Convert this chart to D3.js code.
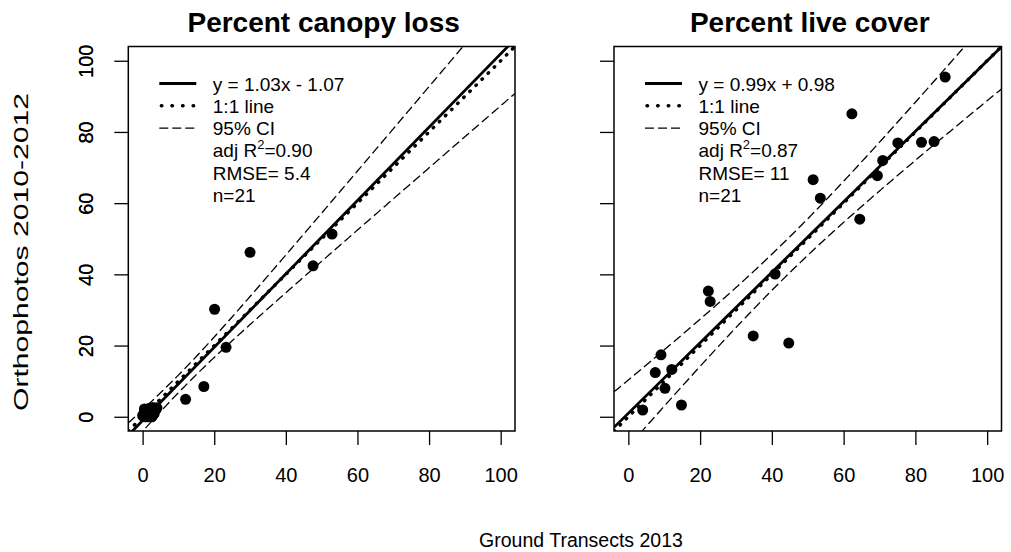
<!DOCTYPE html>
<html>
<head>
<meta charset="utf-8">
<script src="https://cdn.jsdelivr.net/npm/d3@7"></script>
<style>
  html, body { margin: 0; padding: 0; background: #fff; }
  svg { display: block; font-family: "Liberation Sans", Arial, Helvetica, sans-serif; }
</style>
</head>
<body>
<svg id="chart" width="1011" height="552"></svg>
<script>
// Axis ticks shared by both panels
const tickValues = [0, 20, 40, 60, 80, 100];
const axisDomain = [-4, 104];

// Percent canopy loss: ground transects (x) vs orthophotos (y)
const canopyX = [0.0, 0.4, 0.8, 1.2, 1.5, 1.9, 2.2, 2.6, 2.8, 3.2, 3.5, 4.0, 0.5, 2.0, 12.0, 17.1, 20.1, 23.3, 30.0, 47.6, 52.9];
const canopyY = [0.3, 1.0, 0.0, 1.8, 0.0, 2.4, 1.2, 0.0, 2.6, 0.8, 1.9, 2.5, 2.2, 0.3, 4.9, 8.5, 30.2, 19.5, 46.2, 42.4, 51.3];
const canopyFit = { slope: 1.03, intercept: -1.07, r2: "0.90", rmse: 5.4, rmseLabel: "5.4", n: 21 };

// Percent live cover
const liveX = [88.3, 62.3, 75.1, 81.7, 85.2, 70.9, 69.4, 51.5, 53.5, 64.5, 40.9, 22.3, 22.8, 34.8, 44.7, 9.1, 7.5, 12.1, 10.2, 14.8, 4.0];
const liveY = [95.4, 85.1, 76.9, 77.1, 77.3, 72.0, 67.7, 66.6, 61.4, 55.5, 40.1, 35.3, 32.4, 22.7, 20.7, 17.4, 12.4, 13.3, 8.0, 3.3, 1.9];
const liveFit = { slope: 0.99, intercept: 0.98, r2: "0.87", rmse: 11, rmseLabel: "11", n: 21 };

const titles = ["Percent canopy loss", "Percent live cover"];
const xLabel = "Ground Transects 2013";
const yLabel = "Orthophotos 2010-2012";

const svg = d3.select("#chart");

const panels = [
  { title: titles[0], xs: canopyX, ys: canopyY, fit: canopyFit, left: 128.3, right: 515, top: 46.5, bottom: 431 },
  { title: titles[1], xs: liveX, ys: liveY, fit: liveFit, left: 614, right: 1001.5, top: 46.5, bottom: 431 }
];

const T975 = 2.093; // t quantile, 19 df

panels.forEach((p, i) => {
  const x = d3.scaleLinear().domain(axisDomain).range([p.left, p.right]);
  const y = d3.scaleLinear().domain(axisDomain).range([p.bottom, p.top]);
  const g = svg.append("g");

  const clipId = "clip" + i;
  svg.append("clipPath").attr("id", clipId)
    .append("rect")
    .attr("x", p.left).attr("y", p.top)
    .attr("width", p.right - p.left).attr("height", p.bottom - p.top);

  const plot = g.append("g").attr("clip-path", `url(#${clipId})`);

  // Confidence band of the fitted mean
  const n = p.xs.length;
  const xbar = d3.mean(p.xs);
  const sxx = d3.sum(p.xs, v => (v - xbar) * (v - xbar));
  const fitAt = v => p.fit.intercept + p.fit.slope * v;
  const halfWidth = v => T975 * p.fit.rmse * Math.sqrt(1 / n + (v - xbar) * (v - xbar) / sxx);
  const grid = d3.range(axisDomain[0], axisDomain[1] + 0.01, 0.5);
  const line = d3.line().x(d => x(d[0])).y(d => y(d[1]));

  [-1, 1].forEach(sign => {
    plot.append("path")
      .attr("d", line(grid.map(v => [v, fitAt(v) + sign * halfWidth(v)])))
      .attr("fill", "none").attr("stroke", "#000")
      .attr("stroke-width", 1.3).attr("stroke-dasharray", "9 4");
  });

  // 1:1 line
  plot.append("path")
    .attr("d", line([axisDomain[0], axisDomain[1]].map(v => [v, v])))
    .attr("fill", "none").attr("stroke", "#000")
    .attr("stroke-width", 3.4).attr("stroke-linecap", "round")
    .attr("stroke-dasharray", "0.6 8");

  // regression line
  plot.append("path")
    .attr("d", line([axisDomain[0], axisDomain[1]].map(v => [v, fitAt(v)])))
    .attr("fill", "none").attr("stroke", "#000").attr("stroke-width", 2.8);

  // observations
  plot.selectAll("circle")
    .data(p.xs.map((v, k) => [v, p.ys[k]]))
    .join("circle")
    .attr("cx", d => x(d[0])).attr("cy", d => y(d[1]))
    .attr("r", 5.5).attr("fill", "#000");

  // frame
  g.append("rect")
    .attr("x", p.left).attr("y", p.top)
    .attr("width", p.right - p.left).attr("height", p.bottom - p.top)
    .attr("fill", "none").attr("stroke", "#000").attr("stroke-width", 1.5);

  // x axis
  const xAxis = g.append("g")
    .attr("transform", `translate(0,${p.bottom})`)
    .call(d3.axisBottom(x).tickValues(tickValues).tickSize(14).tickPadding(0).tickFormat(d3.format("d")));
  xAxis.select(".domain").remove();
  xAxis.selectAll("line").attr("stroke", "#000").attr("stroke-width", 1.3);
  xAxis.selectAll("text").attr("font-size", 20).attr("fill", "#000")
    .attr("dy", null).attr("y", 51);

  // y axis with rotated labels
  const yAxis = g.append("g")
    .attr("transform", `translate(${p.left},0)`)
    .call(d3.axisLeft(y).tickValues(tickValues).tickSize(14).tickFormat(d3.format("d")));
  yAxis.select(".domain").remove();
  yAxis.selectAll("line").attr("stroke", "#000").attr("stroke-width", 1.3);
  yAxis.selectAll("text").attr("font-size", 20).attr("fill", "#000")
    .attr("x", null).attr("dy", null)
    .attr("text-anchor", "middle")
    .attr("transform", `translate(${92.5 - p.left},0) rotate(-90)`);

  // title
  g.append("text")
    .attr("x", (p.left + p.right) / 2 + 2).attr("y", 32)
    .attr("text-anchor", "middle").attr("font-size", 28).attr("font-weight", "bold")
    .text(p.title);

  // legend
  const fmt = d3.format(".2f");
  const sign = p.fit.intercept < 0 ? "-" : "+";
  const lx0 = p.left + 31, lx1 = p.left + 68, tx = p.left + 84.5;
  const rowY = k => 83.5 + 22.3 * k;
  const leg = g.append("g");
  leg.append("line").attr("x1", lx0).attr("x2", lx1).attr("y1", rowY(0)).attr("y2", rowY(0))
    .attr("stroke", "#000").attr("stroke-width", 2.8);
  leg.append("line").attr("x1", lx0 + 2).attr("x2", lx1).attr("y1", rowY(1)).attr("y2", rowY(1))
    .attr("stroke", "#000").attr("stroke-width", 3.4).attr("stroke-linecap", "round")
    .attr("stroke-dasharray", "0.6 10");
  leg.append("line").attr("x1", lx0).attr("x2", lx1).attr("y1", rowY(2)).attr("y2", rowY(2))
    .attr("stroke", "#000").attr("stroke-width", 1.3).attr("stroke-dasharray", "9 4");

  const legText = (k) => leg.append("text").attr("x", tx).attr("y", rowY(k) + 7).attr("font-size", 19);
  legText(0).text(`y = ${fmt(p.fit.slope)}x ${sign} ${fmt(Math.abs(p.fit.intercept))}`);
  legText(1).text("1:1 line");
  legText(2).text("95% CI");
  const r2 = legText(3);
  r2.append("tspan").text("adj R");
  r2.append("tspan").attr("font-size", 13).attr("dy", -8).text("2");
  r2.append("tspan").attr("dy", 8).text("=" + p.fit.r2);
  legText(4).text("RMSE= " + p.fit.rmseLabel);
  legText(5).text("n=" + p.fit.n);
});

// shared axis titles
svg.append("text")
  .attr("x", 581).attr("y", 547)
  .attr("text-anchor", "middle").attr("font-size", 19.5)
  .text(xLabel);

svg.append("text")
  .attr("transform", "translate(28,252) rotate(-90)")
  .attr("text-anchor", "middle").attr("font-size", 21)
  .attr("textLength", 318).attr("lengthAdjust", "spacingAndGlyphs")
  .text(yLabel);
</script>
</body>
</html>
